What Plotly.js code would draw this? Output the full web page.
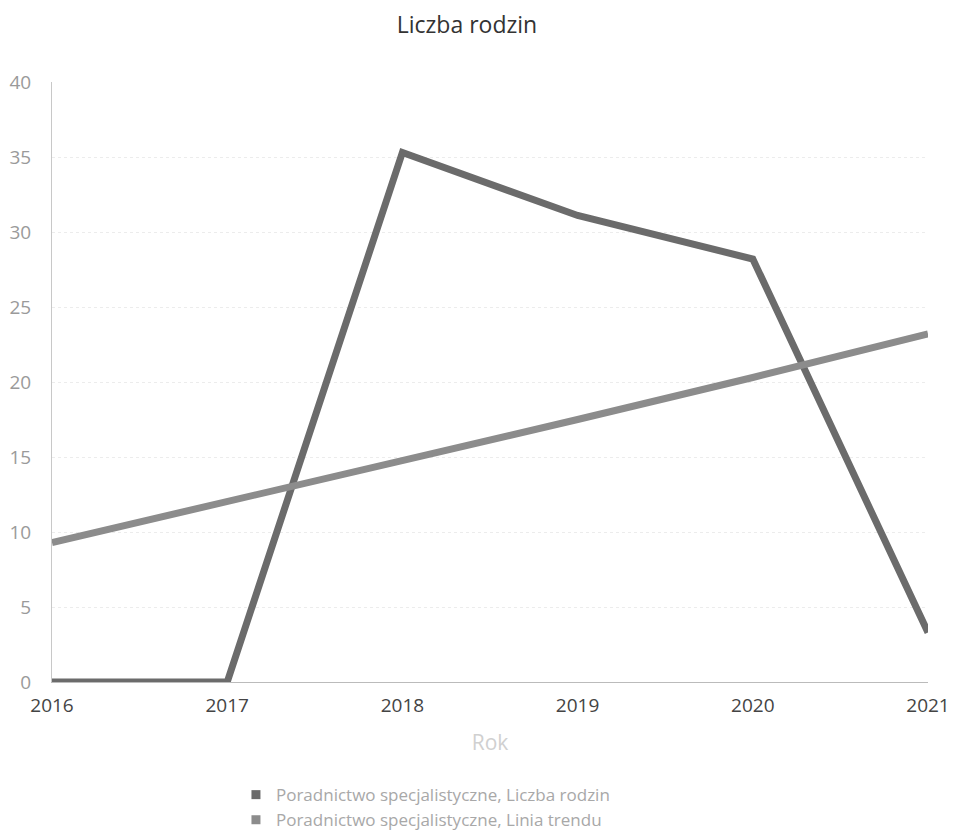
<!DOCTYPE html>
<html>
<head>
<meta charset="utf-8">
<script src="https://cdn.plot.ly/plotly-3.0.1.min.js"></script>
<style>html,body{margin:0;padding:0;background:#fff;}#chart{width:953px;height:832px;}</style>
</head>
<body>
<div id="chart"></div>
<script>
const years = [2016, 2017, 2018, 2019, 2020, 2021];
const liczbaRodzin = [0, 0, 35.3, 31.1, 28.2, 3.3];
const liniaTrendu = [9.3, 12.0, 14.8, 17.5, 20.3, 23.2];
const seriesNames = ["Poradnictwo specjalistyczne, Liczba rodzin", "Poradnictwo specjalistyczne, Linia trendu"];
const seriesColors = ['#6b6b6b', '#8c8c8c'];
const yTicks = [0, 5, 10, 15, 20, 25, 30, 35, 40];

const traces = [
  {x: years, y: liczbaRodzin, name: seriesNames[0], type: 'scatter', mode: 'lines',
   line: {color: seriesColors[0], width: 7}, showlegend: false, legendgroup: 'a'},
  {x: years, y: liniaTrendu, name: seriesNames[1], type: 'scatter', mode: 'lines',
   line: {color: seriesColors[1], width: 7}, showlegend: false, legendgroup: 'b'},
  {x: [null], y: [null], name: seriesNames[0], type: 'scatter', mode: 'markers',
   marker: {symbol: 'square', size: 9, color: seriesColors[0]}, legendgroup: 'a', hoverinfo: 'skip'},
  {x: [null], y: [null], name: seriesNames[1], type: 'scatter', mode: 'markers',
   marker: {symbol: 'square', size: 9, color: seriesColors[1]}, legendgroup: 'b', hoverinfo: 'skip'}
];

const layout = {
  width: 953, height: 832,
  margin: {l: 52, r: 25, t: 82, b: 150},
  paper_bgcolor: '#fff', plot_bgcolor: '#fff',
  font: {family: 'Open Sans, sans-serif', color: '#555'},
  title: {text: 'Liczba rodzin', x: 0.49, xanchor: 'center', y: 0.97, yanchor: 'middle',
          font: {size: 23, color: '#333', family: 'Open Sans, sans-serif'}},
  xaxis: {
    range: [2016, 2021], tickmode: 'array', tickvals: years, ticktext: years.map(String),
    tickfont: {size: 19, color: '#444'}, showgrid: false, zeroline: false,
    showline: true, linecolor: '#bbb', linewidth: 1, ticks: '', automargin: false,
    ticklabelstandoff: 6,
    title: {text: 'Rok', font: {size: 21, color: '#d0d0d0'}, standoff: 18}
  },
  yaxis: {
    range: [0, 40], tickmode: 'array', tickvals: yTicks, automargin: false,
    tickfont: {size: 19, color: '#9a9a9a'}, showgrid: true, gridcolor: '#ececec',
    griddash: 'dot', gridwidth: 1, zeroline: false, showline: true, linecolor: '#c8c8c8',
    linewidth: 1, ticks: '', ticklabelstandoff: 16
  },
  showlegend: true,
  legend: {orientation: 'v', x: 0.21, xanchor: 'left', xref: 'paper',
           y: 0.066, yanchor: 'top', yref: 'container',
           font: {size: 17, color: '#a8a8a8'}, itemwidth: 30, tracegroupgap: 0,
           bgcolor: 'rgba(0,0,0,0)'}
};

Plotly.newPlot('chart', traces, layout, {displayModeBar: false, responsive: false});
</script>
</body>
</html>
